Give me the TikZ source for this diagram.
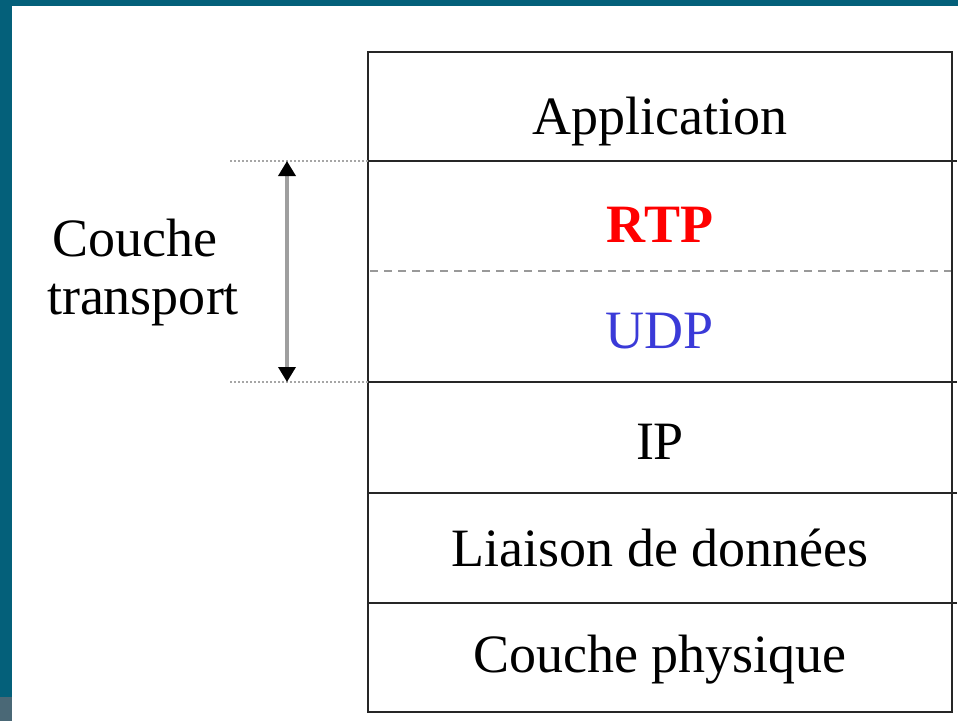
\documentclass[tikz,border=0pt]{standalone}
\usepackage{fontspec}
\setmainfont{Liberation Serif}
\usetikzlibrary{arrows.meta}
\definecolor{teal0}{HTML}{04607A}
\definecolor{greyb}{HTML}{4A6876}
\definecolor{udpblue}{HTML}{3A3AD8}
\definecolor{rtpred}{HTML}{FF0000}
\tikzset{
  lbl/.style={anchor=base,inner sep=0pt,font=\fontsize{54}{60}\selectfont},
  frame/.style={line width=2.4pt,black!85},
  sep/.style={line width=2.4pt,black!85},
  guide/.style={line width=1.4pt,gray!70,dash pattern=on 2pt off 2pt},
}
\begin{document}
\begin{tikzpicture}[x=1pt,y=-1pt]
\useasboundingbox (0,0) rectangle (958,721);
\fill[white] (0,0) rectangle (958,721);
\fill[teal0] (0,0) rectangle (958,6);
\fill[teal0] (0,0) rectangle (12,697);
\fill[greyb] (0,697) rectangle (12,721);
% layer separators
\draw[sep] (368,161) -- (957,161);
\draw[sep] (368,382) -- (957,382);
\draw[sep] (368,493) -- (957,493);
\draw[sep] (368,603) -- (957,603);
\draw[line width=1.8pt,gray!80,dash pattern=on 8pt off 6pt] (370,271) -- (952,271);
\draw[frame] (368,52) rectangle (952,712);
% texts
\node[lbl] (app) at (660,134) {Application};
\node[lbl,text=rtpred,font=\fontsize{54}{60}\selectfont\bfseries] (rtp) at (660,242) {RTP};
\node[lbl,text=udpblue] (udp) at (660,348) {UDP};
\node[lbl] (ip) at (660,459) {IP};
\node[lbl] (liaison) at (660,566) {Liaison de données};
\node[lbl] (phys) at (660,672) {Couche physique};
\node[lbl] (couche) at (135,256) {Couche};
\node[lbl] (transport) at (143,314) {transport};
% guides
\coordinate (gtopL) at (230,161);
\coordinate (gtopR) at (368,161);
\coordinate (gbotL) at (230,382);
\coordinate (gbotR) at (368,382);
\draw[guide] (gtopL) -- (gtopR);
\draw[guide] (gbotL) -- (gbotR);
\coordinate (atop) at (287,161);
\coordinate (abot) at (287,382);
\draw[line width=3.5pt,gray!75,{Triangle[length=15pt,width=17pt,fill=black,color=black]}-{Triangle[length=15pt,width=17pt,fill=black,color=black]}] (atop) -- (abot);
\end{tikzpicture}
\end{document}
